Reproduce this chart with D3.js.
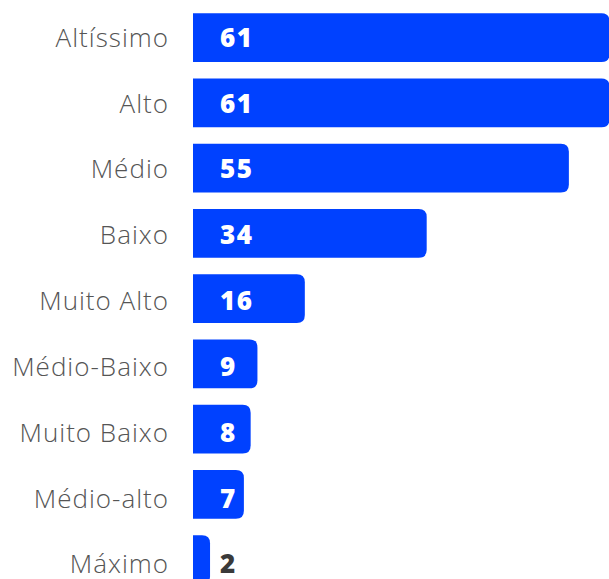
<!DOCTYPE html>
<html>
<head>
<meta charset="utf-8">
<script src="https://cdn.jsdelivr.net/npm/d3@7"></script>
<style>
  html, body { margin: 0; padding: 0; background: #fff; }
  svg { display: block; }
</style>
</head>
<body>
<svg id="chart" width="609" height="579"></svg>
<script>
// categories and values, top to bottom
var categories = ["Altíssimo", "Alto", "Médio", "Baixo", "Muito Alto", "Médio-Baixo", "Muito Baixo", "Médio-alto", "Máximo"];
var values = [61, 61, 55, 34, 16, 9, 8, 7, 2];

var svg = d3.select("#chart"),
  width = +svg.attr("width"),
  height = +svg.attr("height");

var barStart = 193;
var radius = 8;

// -- scales
var x = d3.scaleLinear().domain([0, 61]).range([196.5, 609.5]);
var y = d3.scaleBand()
  .domain(categories)
  .range([5, 5 + 9 * 65.25])
  .paddingInner(0.25)
  .paddingOuter(0.125);
// text rows sit on a slightly wider step than the bars
var yText = d3.scalePoint().domain(categories).range([37.5, 564]);

// -- bar with right rounded corners
function barPath(x0, y0, w, h, r) {
  r = Math.min(r, w, h / 2);
  return "M" + x0 + "," + y0 +
    "H" + (x0 + w - r) +
    "Q" + (x0 + w) + "," + y0 + " " + (x0 + w) + "," + (y0 + r) +
    "V" + (y0 + h - r) +
    "Q" + (x0 + w) + "," + (y0 + h) + " " + (x0 + w - r) + "," + (y0 + h) +
    "H" + x0 + "Z";
}

var data = categories.map(function(c, i) { return { cat: c, val: values[i] }; });

svg.selectAll(".bar")
  .data(data)
  .enter()
  .append("path")
  .attr("class", "bar")
  .attr("fill", "#0041ff")
  .attr("d", function(d) {
    return barPath(barStart, y(d.cat), x(d.val) - barStart, y.bandwidth(), radius);
  });

// -- category labels
svg.selectAll(".label")
  .data(data)
  .enter()
  .append("text")
  .attr("class", "label")
  .attr("x", 169)
  .attr("y", function(d) { return yText(d.cat); })
  .attr("dy", "0.36em")
  .attr("text-anchor", "end")
  .attr("font-family", "'Open Sans', sans-serif")
  .attr("font-weight", 300)
  .attr("font-size", 26)
  .attr("letter-spacing", 1)
  .attr("fill", "#555")
  .text(function(d) { return d.cat; });

// -- value labels
svg.selectAll(".value")
  .data(data)
  .enter()
  .append("text")
  .attr("class", "value")
  .attr("x", 220)
  .attr("y", function(d) { return yText(d.cat); })
  .attr("dy", "0.36em")
  .attr("font-family", "'Open Sans', sans-serif")
  .attr("font-weight", 800)
  .attr("font-size", 26)
  .attr("letter-spacing", 1.5)
  .attr("fill", function(d) { return x(d.val) - barStart > 40 ? "#fff" : "#3a3a3a"; })
  .text(function(d) { return d.val; });
</script>
</body>
</html>
